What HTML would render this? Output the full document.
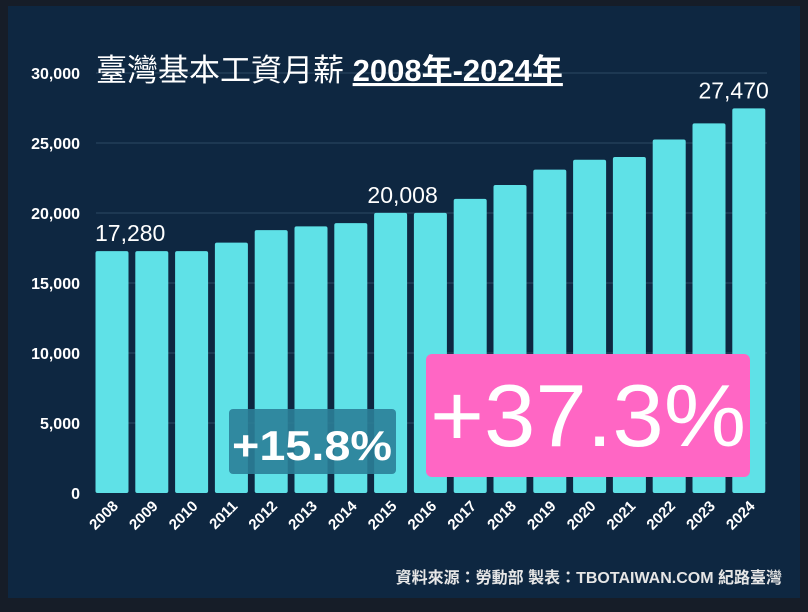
<!DOCTYPE html>
<html><head><meta charset="utf-8"><style>
body{margin:0;width:808px;height:612px;background:#161d28;overflow:hidden;font-family:"Liberation Sans","Noto Sans CJK TC",sans-serif}
#panel{position:absolute;left:8px;top:6px;width:792px;height:592px;background:#0e2741}
svg{position:absolute;left:0;top:0}
</style></head><body>
<div id="panel"></div>
<svg id="chart" width="808" height="612"></svg>
<script>
const years=["2008","2009","2010","2011","2012","2013","2014","2015","2016","2017","2018","2019","2020","2021","2022","2023","2024"];
const wages=[17280,17280,17280,17880,18780,19047,19273,20008,20008,21009,22000,23100,23800,24000,25250,26400,27470];
const yTicks=[0,5000,10000,15000,20000,25000,30000];
const yTickLabels=["0","5,000","10,000","15,000","20,000","25,000","30,000"];
const annotated={0:"17,280",7:"20,008",16:"27,470"};
const NS="http://www.w3.org/2000/svg";
const svg=document.getElementById('chart');
function y(v){return 493-v/30000*420;}
function x(i){return 112+i*39.8;}
function mk(t,a,txt){const e=document.createElementNS(NS,t);for(const k in a)e.setAttribute(k,a[k]);if(txt!==undefined)e.textContent=txt;svg.appendChild(e);return e;}
yTicks.forEach((v,i)=>{
  if(v>0){const g=mk('line',{x1:96,x2:767,y1:y(v),y2:y(v),stroke:'#2c4862','stroke-width':1});
  
  }
  const t=mk('text',{x:80,y:y(v)+6,'text-anchor':'end',fill:'#fff','font-size':16,'font-weight':'bold'},yTickLabels[i]);
  
  
});
wages.forEach((v,i)=>{
  const b=mk('rect',{x:x(i)-16.5,y:y(v),width:33,height:493-y(v),fill:'#5fe1e7',rx:2});
  
  
  const l=mk('text',{x:0,y:0,transform:`translate(${x(i)+7},${507}) rotate(-45)`,'text-anchor':'end',fill:'#fff','font-size':15,'font-weight':'bold'},years[i]);
  
  
  if(annotated[i]){
    const anchor=i===0?'start':(i===7?'middle':'end');
    const ax=i===0?x(i)-17:(i===7?x(i)+12:x(i)+20);
    const a=mk('text',{x:ax,y:y(v)-10,'text-anchor':anchor,fill:'#fff','font-size':23},annotated[i]);
    
    
  }
});
</script>
<svg width="808" height="612" style="position:absolute;left:0;top:0">
<text x="96" y="81" fill="#fff" font-size="31">臺灣基本工資月薪 <tspan font-weight="bold" text-decoration="underline">2008年-2024年</tspan></text>
<rect x="229" y="409" width="167" height="65" rx="4" fill="#2b7f98" opacity="0.9"/>
<text x="312" y="460" text-anchor="middle" fill="#fff" font-size="42" font-weight="bold" textLength="160" lengthAdjust="spacingAndGlyphs">+15.8%</text>
<rect x="426" y="354" width="324" height="123" rx="6" fill="#ff66c4"/>
<text x="588" y="446" text-anchor="middle" fill="#fff" font-size="88" textLength="316" lengthAdjust="spacingAndGlyphs">+37.3%</text>
<text x="782" y="583" text-anchor="end" fill="#e6e6e6" font-size="16" font-weight="bold">資料來源：勞動部  製表：TBOTAIWAN.COM 紀路臺灣</text>
</svg>
</body></html>
